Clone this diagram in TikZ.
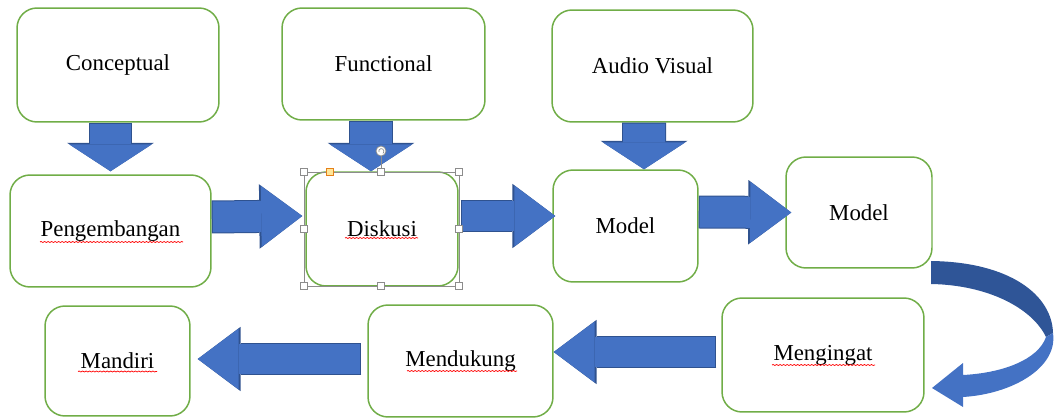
\documentclass[tikz,border=0pt]{standalone}
\usepackage{fontspec}
\setmainfont{Liberation Serif}
\usetikzlibrary{arrows.meta,decorations.pathmorphing}
\definecolor{boxgreen}{HTML}{70AD47}
\definecolor{flowblue}{HTML}{4472C4}
\definecolor{flowedge}{HTML}{2F528F}
\definecolor{curvedark}{HTML}{2F5597}
\definecolor{handlegray}{HTML}{8C8C8C}
\definecolor{handleyellow}{HTML}{FFE699}
\tikzset{
  stage/.style={draw=boxgreen, line width=0.85pt, rounded corners=0.4cm, fill=white,
    align=center, font=\fontsize{13}{15}\selectfont},
  flowright/.style={flowblue, line width=0.62cm, shorten <=0.02cm,
    -{Triangle[length=0.82cm, width=1.22cm, line width=0pt]},
    preaction={draw=flowedge, line width=0.66cm, shorten <=0cm,
      -{Triangle[length=0.86cm, width=1.29cm, line width=0pt]}}},
  flowdown/.style={flowblue, line width=0.84cm, shorten <=0.02cm,
    -{Triangle[length=0.54cm, width=1.66cm, line width=0pt]},
    preaction={draw=flowedge, line width=0.88cm, shorten <=0cm,
      -{Triangle[length=0.57cm, width=1.74cm, line width=0pt]}}},
  squiggle/.style={red, line width=0.4pt, decorate,
    decoration={snake, amplitude=0.3pt, segment length=2pt}},
  handle/.style={draw=handlegray, fill=white, line width=0.4pt, minimum size=0.14cm, inner sep=0pt}
}
\begin{document}
\begin{tikzpicture}[x=0.02cm, y=-0.02cm]
\useasboundingbox (0,0) rectangle (1054,418);
% top row
\node[stage, minimum width=4.04cm, minimum height=2.28cm] (conceptual) at (118,65) {Conceptual};
\node[stage, minimum width=4.06cm, minimum height=2.24cm] (functional) at (383.5,64) {Functional};
\node[stage, minimum width=4.02cm, minimum height=2.24cm] (audio) at (652.5,66) {Audio Visual};
% middle row
\node[stage, minimum width=4.02cm, minimum height=2.24cm] (pengembangan) at (110.5,231) {Pengembangan};
\node[stage, minimum width=3.04cm, minimum height=2.28cm] (diskusi) at (382,229) {Diskusi};
\node[stage, minimum width=2.90cm, minimum height=2.24cm] (model1) at (625.5,226) {Model};
\node[stage, minimum width=2.92cm, minimum height=2.22cm] (model2) at (859,212.5) {Model};
% bottom row
\node[stage, minimum width=4.04cm, minimum height=2.28cm] (mengingat) at (823,355) {Mengingat};
\node[stage, minimum width=3.70cm, minimum height=2.24cm] (mendukung) at (460.5,361) {Mendukung};
\node[stage, minimum width=2.90cm, minimum height=2.20cm] (mandiri) at (117.5,361) {Mandiri};

% spelling marks
\draw[squiggle] ([shift={(-70.5,11)}]pengembangan.center) -- ([shift={(72.5,11)}]pengembangan.center);
\draw[squiggle] ([shift={(-37,9)}]diskusi.center) -- ([shift={(36,9)}]diskusi.center);
\draw[squiggle] ([shift={(-51,10)}]mengingat.center) -- ([shift={(52,10)}]mengingat.center);
\draw[squiggle] ([shift={(-53.5,10)}]mendukung.center) -- ([shift={(56.5,10)}]mendukung.center);
\draw[squiggle] ([shift={(-39.5,10.5)}]mandiri.center) -- ([shift={(39.5,10.5)}]mandiri.center);

% block arrows
\draw[flowdown] (pengembangan.north |- conceptual.south) -- ([shift={(0,-3)}]pengembangan.north);
\draw[flowdown] ([shift={(-12.5,0)}]functional.south) -- ([shift={(-11,0)}]diskusi.north);
\draw[flowdown] ([shift={(-8.5,0)}]audio.south) -- ([shift={(18.5,0)}]model1.north);
\draw[flowright] ([shift={(0,-14)}]pengembangan.east) -- ([shift={(-3,-13)}]diskusi.west);
\draw[flowright] ([shift={(2,-13)}]diskusi.east) -- ([shift={(3,-10)}]model1.west);
\draw[flowright] ([shift={(0,-14)}]model1.east) -- ([shift={(6,0)}]model2.west);
\draw[flowright] ([shift={(-5,-3)}]mengingat.west) -- ([shift={(0,-9)}]mendukung.east);
\draw[flowright] ([shift={(-6,-2)}]mendukung.west) -- ([shift={(7,-2)}]mandiri.east);

% curved arrow from the second model down to mengingat
\fill[curvedark] (931,261) .. controls (1010,262) and (1052,295) .. (1053,333)
  -- (1046,337) .. controls (1032,308) and (988,285) .. (931,284) -- cycle;
\fill[flowblue] (1053,333) .. controls (1058,368) and (1012,394) .. (963,397)
  -- (963,407) -- (932,388) -- (963,363) -- (963,375)
  .. controls (1002,373) and (1038,360) .. (1046,337) -- cycle;

% selection frame round diskusi
\draw[handlegray, line width=0.5pt] (304,172) rectangle (459,286);
\draw[handlegray, line width=0.5pt] (381,156) -- (381,169);
\foreach \hx/\hy in {304/172, 381/172, 459/172, 304/229, 459/229, 304/286, 381/286, 459/286}
  \node[handle] at (\hx,\hy) {};
\node[handle, fill=handleyellow, draw=orange!60!brown] at (330,172) {};
\node[handle, circle, minimum size=0.2cm] (rotate) at (381,151) {};
\draw[handlegray, line width=0.4pt, -{Stealth[length=1pt]}] ([shift={(-2,1)}]rotate.center) arc[start angle=200, end angle=-60, radius=0.05cm];
\end{tikzpicture}
\end{document}
